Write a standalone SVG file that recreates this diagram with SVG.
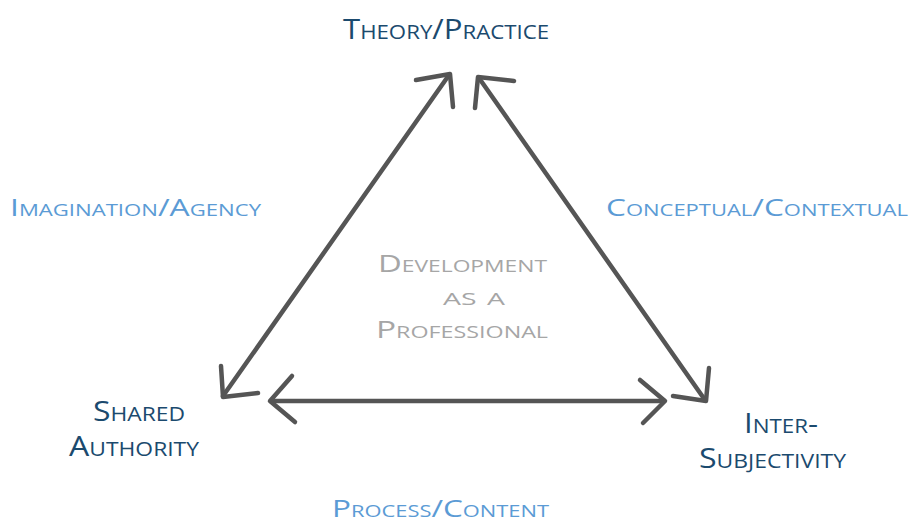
<svg xmlns="http://www.w3.org/2000/svg" width="910" height="523" viewBox="0 0 910 523">
<style>
text{font-family:"Open Sans","DejaVu Sans",sans-serif;font-variant:small-caps}
.dark{fill:#1b4a6e;font-size:28px}
.light{fill:#5b9bd5;font-size:23px}
.grey{fill:#a6a6a6;font-size:23px}
.ln{fill:none;stroke:#555;stroke-width:4.5;stroke-linecap:round;stroke-linejoin:round}
</style>
<rect width="910" height="523" fill="#fff"/>
<g id="connectors">
<path class="ln" d="M449,75 L223,396"/>
<path class="ln" d="M416,80 L450,74 L453,107"/>
<path class="ln" d="M221,366 L223,397 L258,393"/>
<path class="ln" d="M479,78 L705,400"/>
<path class="ln" d="M514,81 L478,77 L475,108"/>
<path class="ln" d="M709,368 L706,401 L673,396"/>
<path class="ln" d="M271,401 L664,401"/>
<path class="ln" d="M292,376 L270,401 L295,422"/>
<path class="ln" d="M640,380 L665,401 L643,423"/>
</g>
<g id="theory-practice"><text class="dark" x="343" y="39" textLength="206" lengthAdjust="spacingAndGlyphs">Theory/Practice</text></g>
<g id="imagination-agency"><text class="light" x="10" y="216" textLength="251" lengthAdjust="spacingAndGlyphs">Imagination/Agency</text></g>
<g id="conceptual-contextual"><text class="light" x="606" y="216" textLength="302" lengthAdjust="spacingAndGlyphs">Conceptual/Contextual</text></g>
<g id="development">
<text class="grey" x="378" y="272" textLength="169" lengthAdjust="spacingAndGlyphs">Development</text>
<text class="grey" x="443" y="305" textLength="62" lengthAdjust="spacingAndGlyphs">as a</text>
<text class="grey" x="376" y="338" textLength="172" lengthAdjust="spacingAndGlyphs">Professional</text>
</g>
<g id="shared-authority">
<text class="dark" x="93" y="421" textLength="92" lengthAdjust="spacingAndGlyphs">Shared</text>
<text class="dark" x="69" y="456" textLength="130" lengthAdjust="spacingAndGlyphs">Authority</text>
</g>
<g id="inter-subjectivity">
<text class="dark" x="744" y="433" textLength="74" lengthAdjust="spacingAndGlyphs">Inter-</text>
<text class="dark" x="699" y="468" textLength="147" lengthAdjust="spacingAndGlyphs">Subjectivity</text>
</g>
<g id="process-content"><text class="light" x="332" y="517" textLength="217" lengthAdjust="spacingAndGlyphs">Process/Content</text></g>
</svg>
